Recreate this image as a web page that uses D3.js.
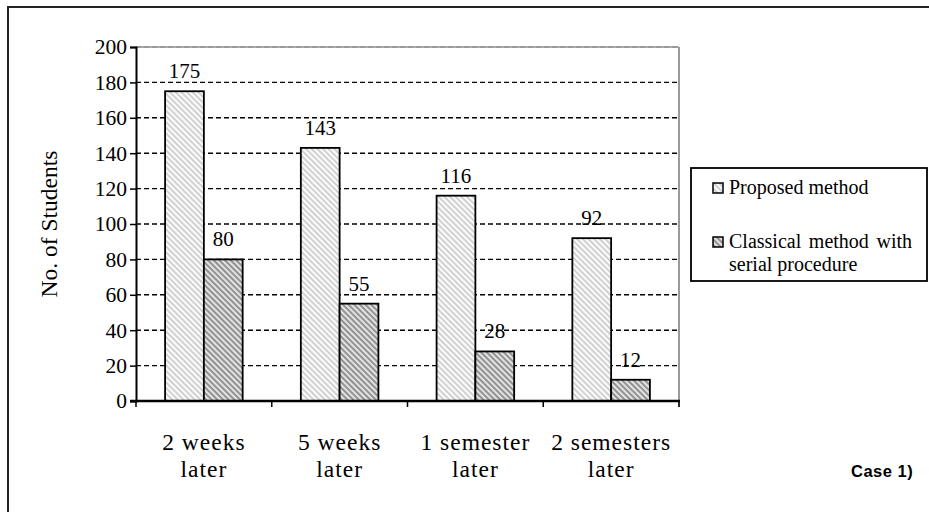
<!DOCTYPE html>
<html><head><meta charset="utf-8">
<script src="https://cdn.jsdelivr.net/npm/d3@7"></script>
<style>html,body{margin:0;padding:0;background:#fff;}svg{display:block;}</style>
</head><body>
<svg id="chart" width="929" height="512"></svg>
<script>
const categories = [["2 weeks","later"],["5 weeks","later"],["1 semester","later"],["2 semesters","later"]];
const seriesNames = ["Proposed method","Classical method with serial procedure"];
const proposed = [175,143,116,92];
const classical = [80,55,28,12];
const yTicks = [0,20,40,60,80,100,120,140,160,180,200];

const svg = d3.select("#chart");
const serif = "'Liberation Serif','Times New Roman',serif";
const W=929,H=512;
const plot = {left:136,right:679,top:47,bottom:401};

const defs = svg.append("defs");
function hatch(id,bg,fg,sw){
  const p = defs.append("pattern").attr("id",id).attr("patternUnits","userSpaceOnUse")
    .attr("width",4).attr("height",4).attr("patternTransform","rotate(45)");
  p.append("rect").attr("width",4).attr("height",4).attr("fill",bg);
  p.append("rect").attr("y",0).attr("width",4).attr("height",sw).attr("fill",fg);
}
hatch("hP","#fbfbfb","#cdcdcd",1.8);
hatch("hC","#e2e2e2","#8a8a8a",1.8);
const fills=["url(#hP)","url(#hC)"];

// outer border
svg.append("rect").attr("x",8).attr("y",7).attr("width",W+20).attr("height",H+20)
  .attr("fill","none").attr("stroke","#222").attr("stroke-width",2);

const x = d3.scaleBand().domain(d3.range(categories.length)).range([plot.left,plot.right]).paddingInner(0).paddingOuter(0);
const xs = d3.scaleBand().domain(d3.range(seriesNames.length)).range([0,x.bandwidth()]).paddingInner(0).paddingOuter(0.75);
const y = d3.scaleLinear().domain([0,200]).range([plot.bottom,plot.top]);

// gridlines
svg.append("g").selectAll("line").data(yTicks.filter(v=>v>0&&v<200)).join("line")
  .attr("x1",plot.left).attr("x2",plot.right).attr("y1",d=>y(d)).attr("y2",d=>y(d))
  .attr("stroke","#000").attr("stroke-width",1.4).attr("stroke-dasharray","5,3");
// plot-area border top/right (gray)
svg.append("line").attr("x1",plot.left).attr("x2",plot.right).attr("y1",y(200)).attr("y2",y(200))
  .attr("stroke","#a8a8a8").attr("stroke-width",2);
svg.append("line").attr("x1",plot.left).attr("x2",plot.right).attr("y1",y(200)).attr("y2",y(200))
  .attr("stroke","#888").attr("stroke-width",1).attr("stroke-dasharray","5,3");
svg.append("line").attr("x1",plot.right).attr("x2",plot.right).attr("y1",y(200)).attr("y2",plot.bottom+6)
  .attr("stroke","#9a9a9a").attr("stroke-width",2);

// bars
const data = [proposed,classical];
const g = svg.append("g");
data.forEach((vals,si)=>{
  g.selectAll(null).data(vals).join("rect")
    .attr("x",(d,i)=>x(i)+xs(si)).attr("width",xs.bandwidth())
    .attr("y",d=>y(d)).attr("height",d=>y(0)-y(d))
    .attr("fill",fills[si]).attr("stroke","#000").attr("stroke-width",1.8);
  g.selectAll(null).data(vals).join("text")
    .attr("x",(d,i)=>x(i)+xs(si)+xs.bandwidth()/2).attr("y",d=>y(d)-13)
    .attr("text-anchor","middle").attr("font-family",serif).attr("font-size",21).attr("fill","#000")
    .text(d=>d);
});

// y axis
const yAxis = d3.axisLeft(y).tickValues(yTicks).tickSize(6).tickPadding(3);
const ga = svg.append("g").attr("transform",`translate(${plot.left},0)`).call(yAxis);
ga.select(".domain").attr("stroke","#000").attr("stroke-width",2);
ga.selectAll(".tick line").attr("stroke","#000").attr("stroke-width",1.5);
ga.selectAll(".tick text").attr("font-family",serif).attr("font-size",21.5).attr("fill","#000");

// x axis
svg.append("line").attr("x1",plot.left-6).attr("x2",plot.right+1).attr("y1",plot.bottom).attr("y2",plot.bottom)
  .attr("stroke","#000").attr("stroke-width",2.5);
const xt = d3.range(categories.length+1).map(i=> i<categories.length? x(i): plot.right);
svg.append("g").selectAll("line").data(xt).join("line")
  .attr("x1",d=>d).attr("x2",d=>d).attr("y1",plot.bottom).attr("y2",plot.bottom+6)
  .attr("stroke","#000").attr("stroke-width",1.5);
const cl = svg.append("g").selectAll("text").data(categories).join("text")
  .attr("text-anchor","middle").attr("font-family",serif).attr("font-size",23.5)
  .attr("letter-spacing",1).attr("fill","#000");
cl.each(function(d,i){
  const t=d3.select(this);
  d.forEach((line,j)=>t.append("tspan").attr("x",x(i)+x.bandwidth()/2).attr("y",450+j*27).text(line));
});

// y title
svg.append("text").attr("transform","translate(57,224) rotate(-90)")
  .attr("text-anchor","middle").attr("font-family",serif).attr("font-size",23.5).attr("fill","#000")
  .text("No. of Students");

// legend
svg.append("rect").attr("x",691).attr("y",168).attr("width",236).attr("height",113)
  .attr("fill","#fff").attr("stroke","#000").attr("stroke-width",1.8);
const leg = [{y:183,lines:["Proposed method"]},{y:237,lines:["Classical method with","serial procedure"]}];
leg.forEach((l,i)=>{
  svg.append("rect").attr("x",713).attr("y",l.y).attr("width",10).attr("height",10)
    .attr("fill",fills[i]).attr("stroke","#000").attr("stroke-width",1.5);
  l.lines.forEach((line,j)=>{
    const t = svg.append("text").attr("x",729).attr("y",l.y+11+j*23)
      .attr("font-family",serif).attr("font-size",20).attr("fill","#000").text(line);
    if(i===1&&j===0){
      const w=t.node().getComputedTextLength(); const target=183;
      const gaps=(line.match(/ /g)||[]).length;
      if(w<target) t.attr("word-spacing",(target-w)/gaps);
    }
  });
});

// Case label
svg.append("text").attr("x",851).attr("y",477).attr("font-family","'Liberation Sans',Arial,sans-serif")
  .attr("font-weight","bold").attr("font-size",16.5).attr("letter-spacing",0.5).attr("fill","#000").text("Case 1)");
</script>
</body></html>
